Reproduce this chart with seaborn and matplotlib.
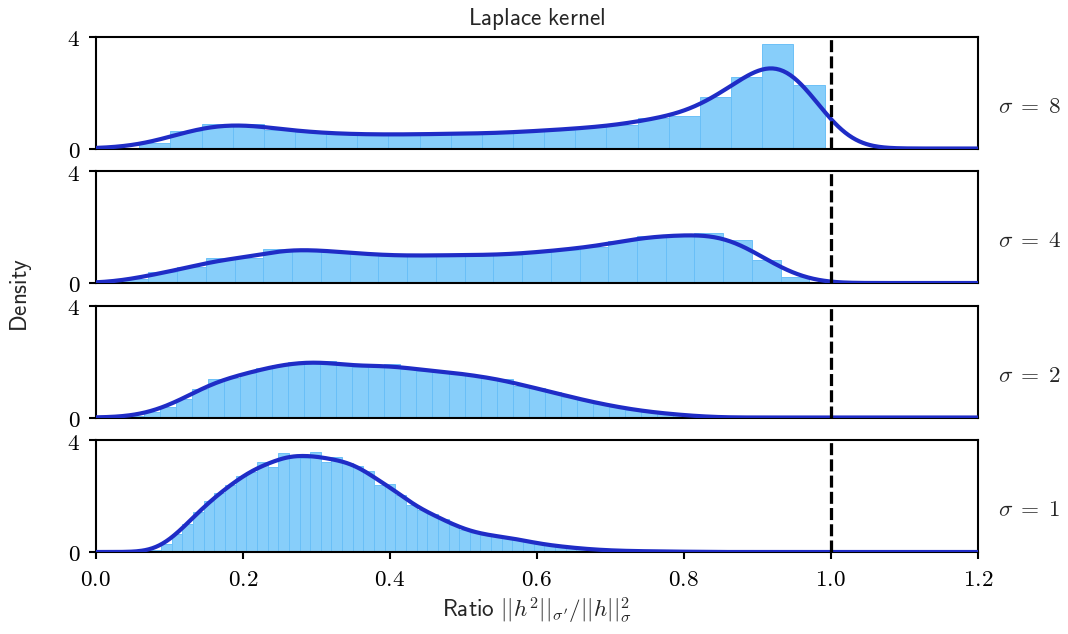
import numpy as np
import pandas as pd
import matplotlib
matplotlib.use("Agg")
import matplotlib.pyplot as plt
import seaborn as sns

# ---------------- data ----------------
sigma_labels = ["8", "4", "2", "1"]

# sigma = 8 : bin start, bin width, bar heights (density)
s8_start, s8_width = 0.0170, 0.04237
s8_heights = [0.03, 0.20, 0.64, 0.89, 0.89, 0.68, 0.58, 0.52, 0.50, 0.50, 0.52,
              0.54, 0.54, 0.62, 0.67, 0.76, 0.83, 1.10, 1.18, 1.83, 2.57, 3.75, 2.29]

# sigma = 4
s4_start, s4_width = 0.0326, 0.0391
s4_heights = [0.14, 0.38, 0.56, 0.88, 0.88, 1.21, 1.21, 1.13, 1.04, 0.98, 0.98, 1.00,
              1.00, 1.02, 1.10, 1.20, 1.30, 1.50, 1.69, 1.69, 1.79, 1.54, 0.82, 0.23]

# sigma = 2
s2_start, s2_width = 0.0222, 0.0218
s2_heights = [0.01, 0.04, 0.18, 0.38, 0.68, 1.01, 1.39, 1.42, 1.60, 1.77, 1.89, 1.99,
              2.01, 2.01, 1.87, 1.80, 1.85, 1.93, 1.73, 1.68, 1.67, 1.60, 1.51, 1.42,
              1.39, 1.13, 1.06, 0.92, 0.74, 0.61, 0.49, 0.38, 0.27, 0.20, 0.14, 0.09, 0.05]

# sigma = 1
s1_start, s1_width = 0.0601, 0.01448
s1_heights = [0.01, 0.06, 0.28, 0.65, 1.02, 1.45, 1.82, 2.10, 2.40, 2.72, 2.88, 3.24,
              3.06, 3.56, 3.48, 3.37, 3.60, 3.22, 3.40, 3.20, 3.10, 2.90, 2.40, 2.43,
              2.05, 1.70, 1.50, 1.35, 1.17, 0.95, 0.80, 0.68, 0.62, 0.56, 0.52, 0.48,
              0.36, 0.30, 0.24, 0.20, 0.16, 0.12, 0.09, 0.07, 0.05, 0.04, 0.03, 0.03,
              0.02, 0.02, 0.01, 0.01, 0.01]

# KDE bandwidth (in data units) per panel
kde_bandwidths = [0.040, 0.034, 0.030, 0.020]

x_ticks = [0.0, 0.2, 0.4, 0.6, 0.8, 1.0, 1.2]
y_ticks = [0, 4]
ref_line = 1.0

panels = [
    (s8_start, s8_width, s8_heights),
    (s4_start, s4_width, s4_heights),
    (s2_start, s2_width, s2_heights),
    (s1_start, s1_width, s1_heights),
]

# ---------------- style ----------------
sns.set_theme(style="ticks")
plt.rcParams.update({
    "mathtext.fontset": "cm",
    "font.size": 10,
    "axes.linewidth": 0.9,
    "xtick.major.width": 0.9,
    "ytick.major.width": 0.9,
    "xtick.major.size": 3.2,
    "ytick.major.size": 3.2,
    "axes.edgecolor": "black",
    "xtick.color": "black",
    "ytick.color": "black",
})
plt.rcParams["font.family"] = ["DejaVu Sans"]

BAR_FACE = "#87cefa"
BAR_EDGE = "#68bff7"
KDE_COLOR = "#1f2cc6"


def bw_adjust_for(centers, weights, h):
    w = np.asarray(weights, float)
    c = np.asarray(centers, float)
    v1 = w.sum()
    v2 = (w ** 2).sum()
    m = (w * c).sum() / v1
    var = (w * (c - m) ** 2).sum() / (v1 - v2 / v1)
    neff = v1 ** 2 / v2
    return h / (np.sqrt(var) * neff ** (-0.2))


fig, axes = plt.subplots(4, 1, figsize=(6.4, 3.8), dpi=166.875, sharex=True)
fig.subplots_adjust(left=0.0896, right=0.9155, top=0.9416, bottom=0.1293, hspace=0.205)

for i, (ax, (start, width, heights)) in enumerate(zip(axes, panels)):
    n = len(heights)
    edges = start + width * np.arange(n + 1)
    centers = 0.5 * (edges[:-1] + edges[1:])
    df = pd.DataFrame({"ratio": centers, "h": heights})
    adj = bw_adjust_for(centers, heights, kde_bandwidths[i])
    sns.histplot(
        data=df, x="ratio", weights="h", bins=n, binrange=(edges[0], edges[-1]),
        stat="count", kde=True, ax=ax, color=BAR_FACE, alpha=1.0,
        edgecolor=BAR_EDGE, linewidth=0.4,
        kde_kws=dict(bw_adjust=adj, cut=30, clip=(0.0, 1.2), gridsize=500),
        line_kws=dict(linewidth=1.8, solid_capstyle="round"),
    )
    for ln in ax.lines:
        ln.set_color(KDE_COLOR)
        ln.set_zorder(4)
    ax.axvline(ref_line, color="black", linestyle="--", linewidth=1.4,
               dashes=(3.7, 1.3), zorder=5)
    ax.set_xlim(0, 1.2)
    ax.set_ylim(0, 4)
    ax.set_yticks(y_ticks)
    ax.set_yticklabels([f"${t}$" for t in y_ticks], fontsize=10)
    ax.set_ylabel("")
    ax.set_xlabel("")
    for sp in ax.spines.values():
        sp.set_visible(True)
        sp.set_zorder(3)
    ax.text(1.023, 0.32, rf"$\sigma\;=\;{sigma_labels[i]}$", transform=ax.transAxes,
            ha="left", va="baseline", fontsize=10)
    if i < 3:
        ax.tick_params(axis="x", which="both", length=0, labelbottom=False)

axes[-1].set_xticks(x_ticks)
axes[-1].set_xticklabels([f"${t:.1f}$" for t in x_ticks], fontsize=10)
axes[-1].set_xlabel(r"$\mathsf{Ratio}\ ||h^2||_{\sigma'}/||h||_{\sigma}^2$", fontsize=10,
                    labelpad=2)
axes[0].set_title(r"$\mathsf{Laplace\ kernel}$", fontsize=10, pad=5)
fig.text(0.02, 0.535, r"$\mathsf{Density}$", rotation=90, ha="center", va="center",
         fontsize=10)

fig.savefig("out.png", dpi=166.875)
